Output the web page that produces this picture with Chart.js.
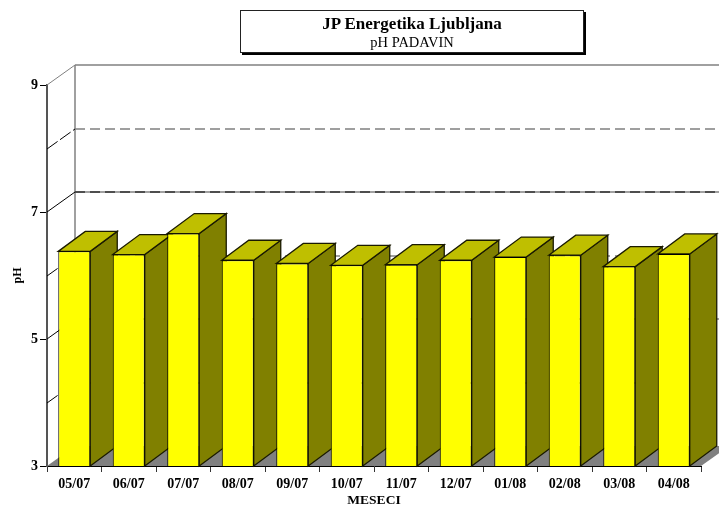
<!DOCTYPE html>
<html>
<head>
<meta charset="utf-8">
<script src="https://cdn.jsdelivr.net/npm/chart.js@4/dist/chart.umd.min.js"></script>
<style>
  html, body { margin: 0; padding: 0; background: #fff; }
  #wrap { position: relative; width: 719px; height: 509px; overflow: hidden; }
  #reportChart { position: absolute; left: 0; top: 0; }
  #titleBox {
    position: absolute; left: 240px; top: 10px; width: 342px; height: 41px;
    border: 1px solid #222; box-shadow: 2px 2px 0 #000; background: #fff;
    text-align: center; font-family: "Liberation Serif", serif; color: #000;
  }
  #titleBox b { display: block; font-size: 17px; line-height: 18px; margin-top: 4px; }
  #titleBox span { display: block; font-size: 14.5px; line-height: 16px; margin-top: 1px; }
</style>
</head>
<body>
<div id="wrap">
  <canvas id="reportChart" width="719" height="509"></canvas>
  <div id="titleBox"><b>JP Energetika Ljubljana</b><span>pH PADAVIN</span></div>
</div>
<script>
// Datos
const meseci = ["05/07", "06/07", "07/07", "08/07", "09/07", "10/07", "11/07", "12/07", "01/08", "02/08", "03/08", "04/08"];
const phValues = [6.38, 6.33, 6.66, 6.24, 6.19, 6.16, 6.17, 6.24, 6.29, 6.32, 6.14, 6.34];
const labeledTicks = [3, 5, 7, 9];
const dashedLevels = [4, 6, 8];

const DX = 28, DY = -20;
const DEPTH_X = 27, DEPTH_Y = -20;
const serif = "'Liberation Serif', serif";

function poly(ctx, pts, fill, stroke) {
    ctx.beginPath();
    pts.forEach((p, i) => i ? ctx.lineTo(p[0], p[1]) : ctx.moveTo(p[0], p[1]));
    ctx.closePath();
    if (fill) { ctx.fillStyle = fill; ctx.fill(); }
    if (stroke) { ctx.strokeStyle = stroke; ctx.lineWidth = 1.3; ctx.stroke(); }
}

function line(ctx, x1, y1, x2, y2, color, width, dash) {
    ctx.beginPath();
    ctx.setLineDash(dash || []);
    ctx.lineWidth = width;
    ctx.strokeStyle = color;
    ctx.moveTo(x1, y1);
    ctx.lineTo(x2, y2);
    ctx.stroke();
    ctx.setLineDash([]);
}

// paredes del fondo y caras laterales de las barras
const walls3d = {
    id: "walls3d",
    beforeDatasetsDraw(chart) {
        const ctx = chart.ctx;
        const { left, right, top, bottom } = chart.chartArea;
        const y = chart.scales.y;
        ctx.save();

        poly(ctx, [[left, bottom], [left + DX, bottom + DY], [right + DX, bottom + DY], [right, bottom]], "#808080");
        line(ctx, left + DX, top + DY, left + DX, bottom + DY, "#808080", 1.5);

        y.ticks.forEach(t => {
            const py = Math.round(y.getPixelForValue(t.value));
            const backY = py + DY;
            if (t.value === 3) return;
            if (dashedLevels.includes(t.value)) {
                line(ctx, left + DX, backY, right + DX, backY, "#808080", 1.5, [10, 5]);
                line(ctx, left, py, left + DX, backY, "#000", 1, [13, 3]);
            } else if (t.value === 7) {
                line(ctx, left + DX, backY, right + DX, backY, "#808080", 1.5);
                line(ctx, left + DX, backY, right + DX, backY, "#333", 1.5, [10, 5]);
                line(ctx, left, py, left + DX, backY, "#000", 1);
            } else {
                line(ctx, left + DX, backY, right + DX, backY, "#808080", 1.5);
                line(ctx, left, py, left + DX, backY, t.value === 9 ? "#808080" : "#000", 1);
            }
        });

        // cara lateral y superior de cada barra
        chart.getDatasetMeta(0).data.forEach(bar => {
            const half = bar.width / 2;
            const x1 = bar.x - half;
            const x2 = bar.x + half;
            const yt = bar.y;
            const yb = bottom;
            poly(ctx, [[x2, yt], [x2 + DEPTH_X, yt + DEPTH_Y], [x2 + DEPTH_X, yb + DEPTH_Y], [x2, yb]], "#808000", "#1a1a00");
            poly(ctx, [[x1, yt], [x1 + DEPTH_X, yt + DEPTH_Y], [x2 + DEPTH_X, yt + DEPTH_Y], [x2, yt]], "#BFBF00", "#1a1a00");
        });
        ctx.restore();
    }
};

const chart = new Chart(document.getElementById("reportChart").getContext("2d"), {
    type: "bar",
    plugins: [walls3d],
    data: {
        labels: meseci,
        datasets: [{
            label: "pH",
            data: phValues,
            backgroundColor: "#FFFF00",
            borderColor: "#000",
            borderWidth: 1,
            categoryPercentage: 1,
            barPercentage: 0.587
        }]
    },
    options: {
        responsive: false,
        animation: false,
        layout: { padding: { top: 85, right: 18, left: 0, bottom: 0 } },
        plugins: { legend: { display: false }, tooltip: { enabled: false } },
        scales: {
            x: {
                afterFit: s => { s.height = 43; },
                grid: { drawOnChartArea: false, offset: true, tickLength: 6, color: "#333" },
                border: { color: "#000", width: 1 },
                ticks: { color: "#000", padding: 4, maxRotation: 0, autoSkip: false, font: { family: serif, size: 14, weight: "bold" } },
                title: { display: true, text: "MESECI", color: "#000", padding: { top: 5, bottom: 0 }, font: { family: serif, size: 13.5, weight: "bold" } }
            },
            y: {
                min: 3,
                max: 9,
                afterFit: s => { s.width = 47; },
                grid: {
                    drawOnChartArea: false,
                    tickLength: 7,
                    tickColor: c => labeledTicks.includes(c.tick.value) ? "#000" : "rgba(0,0,0,0)"
                },
                border: { color: "#555", width: 2 },
                ticks: {
                    stepSize: 1,
                    color: "#000",
                    padding: 2,
                    autoSkip: false,
                    callback: v => labeledTicks.includes(v) ? String(v) : "",
                    font: { family: serif, size: 14, weight: "bold" }
                },
                title: { display: true, text: "pH", color: "#000", padding: { top: 11, bottom: 0 }, font: { family: serif, size: 12, weight: "bold" } }
            }
        }
    }
});
</script>
</body>
</html>
